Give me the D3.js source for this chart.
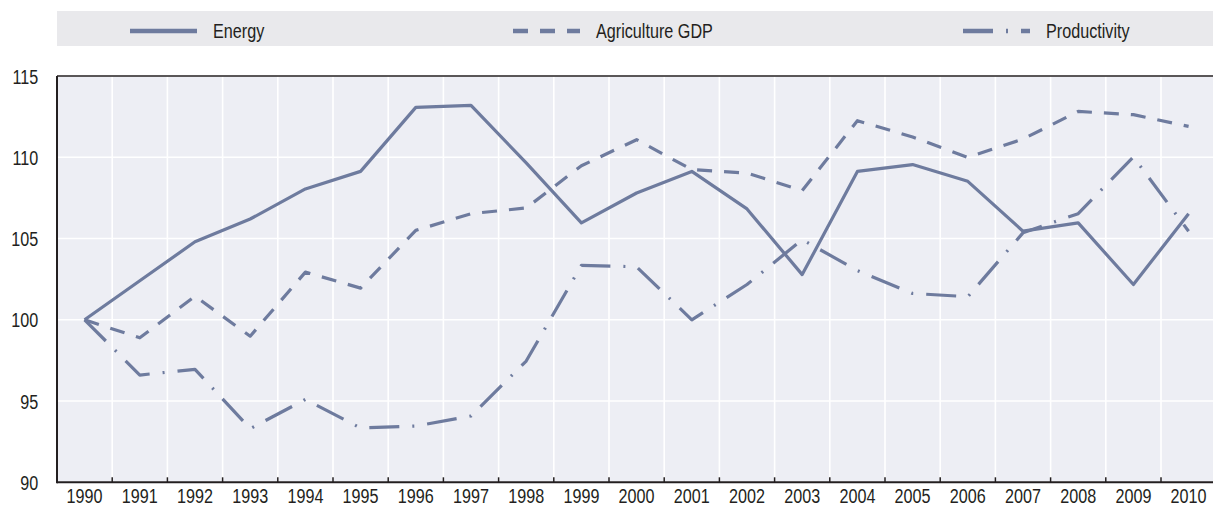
<!DOCTYPE html>
<html><head><meta charset="utf-8">
<script src="https://cdn.jsdelivr.net/npm/d3@7"></script>
<style>
html,body{margin:0;padding:0;background:#fff;overflow:hidden}
text{font-family:"Liberation Sans",Arial,Helvetica,sans-serif;fill:#231f20}
</style></head>
<body>
<svg id="c" width="1213" height="507"></svg>
<script>
const years = ["1990","1991","1992","1993","1994","1995","1996","1997","1998","1999","2000","2001","2002","2003","2004","2005","2006","2007","2008","2009","2010"];
const energy = [100,102.4,104.8,106.2,108.05,109.13,113.07,113.19,109.65,105.96,107.8,109.13,106.82,102.78,109.13,109.55,108.52,105.45,105.96,102.17,106.53];
const agriculture = [100,98.89,101.45,98.99,102.93,101.95,105.5,106.53,106.88,109.48,111.08,109.24,109.03,107.95,112.25,111.25,109.99,111.12,112.82,112.62,111.9];
const productivity = [100,96.6,96.95,93.3,95.1,93.34,93.46,94.08,97.46,103.35,103.26,100.0,102.17,104.93,103.03,101.62,101.42,105.35,106.53,110.02,105.45];
const yTicks = [90,95,100,105,110,115];
const seriesNames = ["Energy","Agriculture GDP","Productivity"];

(function(){
const color = "#6e7b9e";
const dashes = [null, "15,12", "30,13,2,13"];
const series = [energy, agriculture, productivity];
const FS = 19.5, SX = 0.83;

const svg = d3.select("#c");
const pL = 57, pT = 76, pB = 482.3, bw = 55.2, W = 1213;
const x = d3.scaleBand().domain(years).range([pL, pL + bw*years.length]).padding(0);
const y = d3.scaleLinear().domain([90,115]).range([pB, pT]);

// legend
svg.append("rect").attr("x",pL).attr("y",11).attr("width",W-pL).attr("height",35).attr("fill","#e9e9ec");
const legX = [130, 513, 963];
seriesNames.forEach((n,i)=>{
  svg.append("line").attr("x1",legX[i]).attr("x2",legX[i]+67).attr("y1",31).attr("y2",31)
    .attr("stroke",color).attr("stroke-width",4.5).attr("stroke-dasharray",dashes[i]);
  svg.append("g").attr("transform",`translate(${legX[i]+83},38) scale(${SX},1)`)
    .append("text").attr("font-size",FS).text(n);
});

// plot background
svg.append("rect").attr("x",pL).attr("y",pT).attr("width",W-pL).attr("height",pB-pT).attr("fill","#edeef4");

// gridlines
svg.append("g").selectAll("line").data(yTicks).join("line")
  .attr("x1",pL).attr("x2",W).attr("y1",d=>y(d)).attr("y2",d=>y(d))
  .attr("stroke","#fff").attr("stroke-width",1.6);
svg.append("g").selectAll("line").data(years.slice(1)).join("line")
  .attr("x1",d=>x(d)).attr("x2",d=>x(d)).attr("y1",pT).attr("y2",pB)
  .attr("stroke","#fff").attr("stroke-width",1.6);

// lines
const line = d3.line().x((d,i)=>x(years[i])+x.bandwidth()/2).y(d=>y(d));
series.forEach((s,i)=>{
  svg.append("path").datum(s).attr("d",line).attr("fill","none")
    .attr("stroke",color).attr("stroke-width",3.2).attr("stroke-linejoin","round")
    .attr("stroke-dasharray",dashes[i]);
});

// axes
const gx = svg.append("g").attr("transform",`translate(0,${pB})`).call(d3.axisBottom(x).tickSize(0).tickPadding(0));
gx.select(".domain").remove();
gx.selectAll("text").attr("font-size",FS).attr("dy",null).attr("y",20.5).attr("fill","#231f20")
  .attr("transform",`scale(${SX},1)`).style("font-family","'Liberation Sans',Arial,sans-serif");
svg.append("g").selectAll("line").data(years.slice(1)).join("line")
  .attr("x1",d=>x(d)).attr("x2",d=>x(d)).attr("y1",pB-5).attr("y2",pB)
  .attr("stroke","#231f20").attr("stroke-width",1.5);

const gy = svg.append("g").attr("transform",`translate(${pL},0)`).call(d3.axisLeft(y).tickValues(yTicks).tickSize(0).tickPadding(19));
gy.select(".domain").remove();
gy.selectAll("text").attr("font-size",FS).attr("fill","#231f20").attr("x",-18.7/SX).attr("dy","0.36em")
  .attr("transform",`scale(${SX},1)`).style("font-family","'Liberation Sans',Arial,sans-serif");

// frame lines
svg.append("line").attr("x1",pL).attr("x2",W).attr("y1",pB).attr("y2",pB).attr("stroke","#231f20").attr("stroke-width",2);
svg.append("line").attr("x1",pL).attr("x2",W).attr("y1",pT).attr("y2",pT).attr("stroke","#231f20").attr("stroke-width",1.5);
svg.append("line").attr("x1",pL).attr("x2",pL).attr("y1",pT).attr("y2",pB+1).attr("stroke","#231f20").attr("stroke-width",2);
})();
</script>
</body></html>
